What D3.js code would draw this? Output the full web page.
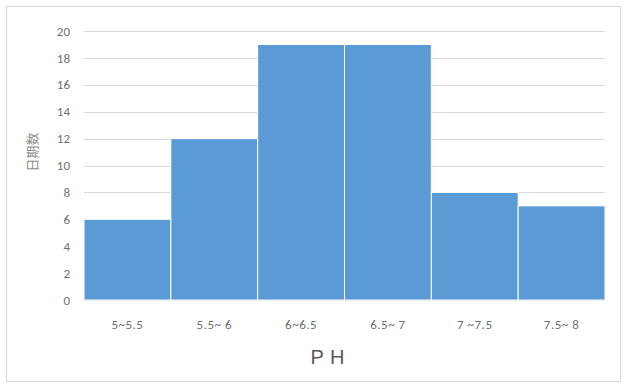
<!DOCTYPE html>
<html>
<head>
<meta charset="utf-8">
<script src="https://cdn.jsdelivr.net/npm/d3@7"></script>
<style>
  html, body { margin: 0; padding: 0; background: #fff; }
  svg { display: block; }
</style>
</head>
<body>
<svg id="chart" width="626" height="385"></svg>
<script>
// pH ranges and the count of days in each range
const categories = ["5~5.5", "5.5~ 6", "6~6.5", "6.5~ 7", "7 ~7.5", "7.5~ 8"];
const counts = [6, 12, 19, 19, 8, 7];
const yTicks = [0, 2, 4, 6, 8, 10, 12, 14, 16, 18, 20];

const svg = d3.select("#chart");
const W = 626, H = 385;
const margin = { left: 84, right: 21, top: 31, bottom: 85 };

// outer frame
svg.append("rect")
  .attr("x", 6.5).attr("y", 6.5)
  .attr("width", 614).attr("height", 375)
  .attr("fill", "#fff").attr("stroke", "#d9d9d9");

const x = d3.scaleBand()
  .domain(categories)
  .range([margin.left, W - margin.right])
  .paddingInner(0).paddingOuter(0);

const y = d3.scaleLinear()
  .domain([0, 20])
  .range([H - margin.bottom, margin.top]);

// gridlines
svg.append("g")
  .selectAll("line")
  .data(yTicks)
  .join("line")
  .attr("x1", margin.left).attr("x2", W - margin.right)
  .attr("y1", d => Math.round(y(d)) + 0.5).attr("y2", d => Math.round(y(d)) + 0.5)
  .attr("stroke", "#d9d9d9").attr("stroke-width", 1);

// y axis labels
const yAxis = d3.axisLeft(y).tickValues(yTicks).tickSize(0).tickPadding(14);
const gy = svg.append("g")
  .attr("transform", `translate(${margin.left},0)`)
  .call(yAxis);
gy.select(".domain").remove();
gy.selectAll("text")
  .attr("fill", "#6f6f6f")
  .style("font-family", "Calibri, Carlito, 'Liberation Sans', sans-serif")
  .style("font-size", "13px");

// bars
svg.append("g")
  .selectAll("rect")
  .data(counts)
  .join("rect")
  .attr("x", (d, i) => x(categories[i]))
  .attr("y", d => y(d))
  .attr("width", x.bandwidth())
  .attr("height", d => y(0) - y(d))
  .attr("fill", "#5b9bd5")
  .attr("stroke", "#fff")
  .attr("stroke-width", 1);

// x axis labels
const xAxis = d3.axisBottom(x).tickSize(0).tickPadding(20);
const gx = svg.append("g")
  .attr("transform", `translate(0,${y(0)})`)
  .call(xAxis);
gx.select(".domain").remove();
gx.selectAll("text")
  .attr("fill", "#6f6f6f")
  .style("font-family", "Calibri, Carlito, 'Liberation Sans', sans-serif")
  .style("font-size", "13px")
  .style("letter-spacing", "0.5px");

// axis titles
svg.append("text")
  .attr("x", (margin.left + W - margin.right) / 2 - 14)
  .attr("y", 364)
  .attr("text-anchor", "middle")
  .attr("fill", "#595959")
  .style("font-family", "'Liberation Sans', sans-serif")
  .style("font-size", "20px")
  .style("letter-spacing", "6px")
  .text("PH");

svg.append("text")
  .attr("transform", "translate(37,152) rotate(-90)")
  .attr("text-anchor", "middle")
  .attr("fill", "#8c8c8c")
  .style("font-family", "'Noto Sans CJK SC', sans-serif")
  .style("font-size", "13px")
  .text("日期数");
</script>
</body>
</html>
